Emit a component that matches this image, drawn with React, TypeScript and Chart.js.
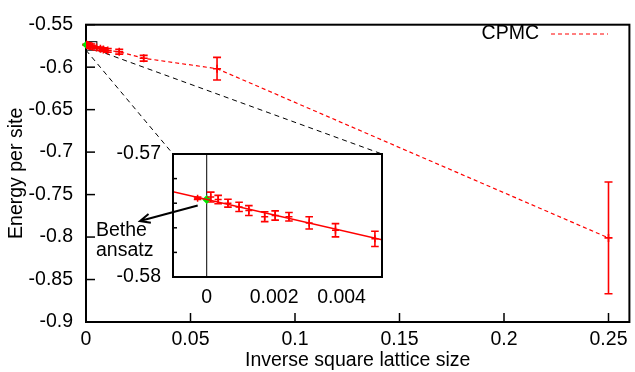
import React, { useEffect, useRef } from "react";
import { Chart, registerables } from "chart.js";

Chart.register(...registerables);

// ---------- data ----------
// inset region CPMC results (large lattices)
const insetX = [0.00012, 0.00034, 0.00063, 0.00096, 0.00125, 0.00172, 0.00203, 0.00244, 0.00304, 0.00382, 0.00499];
const insetY = [-0.5735, -0.5737, -0.574, -0.5743, -0.5746, -0.5751, -0.575, -0.5751, -0.5756, -0.5762, -0.5769];
const insetErr = [0.0004, 0.00034, 0.00032, 0.00038, 0.0004, 0.0004, 0.00038, 0.00035, 0.0005, 0.00054, 0.00062];
// smaller lattices
const smallX = [0.0069, 0.0083, 0.0104, 0.0159, 0.0276, 0.0627, 0.25];
const smallY = [-0.5782, -0.5791, -0.5803, -0.5818, -0.5895, -0.6018, -0.801];
const smallErr = [0.002, 0.002, 0.0022, 0.0028, 0.0034, 0.0133, 0.0658];
// Bethe ansatz value
const betheX = [0];
const betheY = [-0.5737];
// extrapolated point
const extrapX = [-0.00027];
const extrapY = [-0.5736];
const extrapErr = [0.0001];
// linear fit (end points)
const fitX = [-0.001, 0.0052];
const fitY = [-0.57307, -0.57698];
// zoom window
const zoomX = [-0.001, 0.0052];
const zoomY = [-0.58, -0.57];
// ticks
const mainXTicks = [0, 0.05, 0.1, 0.15, 0.2, 0.25];
const mainYTicks = [-0.9, -0.85, -0.8, -0.75, -0.7, -0.65, -0.6, -0.55];
const insetXTicks = [0, 0.002, 0.004];
const insetYTicks = [-0.58, -0.578, -0.576, -0.574, -0.572, -0.57];
const insetYLabels = [-0.58, -0.57];

const cpmcX = [...insetX, ...smallX];
const cpmcY = [...insetY, ...smallY];
const cpmcErr = [...insetErr, ...smallErr];

const FONT = "'Liberation Sans', Arial, Helvetica, sans-serif";
const FS = 19.5;
const RED = "#ff0000";
const GREEN = "#00e600";

const pts = (xs: number[], ys: number[]) => xs.map((x, i) => ({ x, y: ys[i] }));

const errorBars = {
  id: "errorBars",
  beforeDatasetsDraw(chart: any) {
    const ctx = chart.ctx;
    const ys = chart.scales.y;
    chart.data.datasets.forEach((ds: any, i: number) => {
      if (!ds.errors) return;
      const meta = chart.getDatasetMeta(i);
      ctx.save();
      ctx.strokeStyle = ds.errColor;
      ctx.lineWidth = ds.errWidth;
      ctx.setLineDash([]);
      meta.data.forEach((el: any, j: number) => {
        const v = ds.data[j].y;
        const e = ds.errors[j];
        const x = el.x;
        const y1 = ys.getPixelForValue(v + e);
        const y2 = ys.getPixelForValue(v - e);
        const c = ds.capHalf;
        ctx.beginPath();
        ctx.moveTo(x, y1);
        ctx.lineTo(x, y2);
        ctx.moveTo(x - c, y1);
        ctx.lineTo(x + c, y1);
        ctx.moveTo(x - c, y2);
        ctx.lineTo(x + c, y2);
        ctx.stroke();
      });
      ctx.restore();
    });
  },
};

function fixedTicks(values: number[]) {
  return (s: any) => {
    s.ticks = values.map((v) => ({ value: v }));
  };
}

export default function App() {
  const mainRef = useRef<HTMLCanvasElement>(null);
  const insetRef = useRef<HTMLCanvasElement>(null);

  useEffect(() => {
    Chart.defaults.font.family = FONT;
    Chart.defaults.font.size = FS;
    Chart.defaults.color = "#000";

    // ---------------- inset ----------------
    const insetDecor = {
      id: "insetDecor",
      beforeDraw(chart: any) {
        const { ctx, chartArea: a } = chart;
        ctx.save();
        ctx.fillStyle = "#fff";
        ctx.fillRect(a.left, a.top, a.right - a.left, a.bottom - a.top);
        const x0 = chart.scales.x.getPixelForValue(0);
        ctx.strokeStyle = "#000";
        ctx.lineWidth = 1;
        ctx.beginPath();
        ctx.moveTo(x0, a.top);
        ctx.lineTo(x0, a.bottom);
        ctx.stroke();
        ctx.restore();
      },
      afterDraw(chart: any) {
        const { ctx, chartArea: a } = chart;
        const ys = chart.scales.y;
        ctx.save();
        ctx.strokeStyle = "#000";
        ctx.lineWidth = 2;
        ctx.strokeRect(a.left, a.top, a.right - a.left, a.bottom - a.top);
        ctx.lineWidth = 1.5;
        insetYTicks.forEach((v) => {
          const y = ys.getPixelForValue(v);
          ctx.beginPath();
          ctx.moveTo(a.left, y);
          ctx.lineTo(a.left + 4, y);
          ctx.stroke();
        });
        // arrow from Bethe point towards label
        const gx = chart.scales.x.getPixelForValue(betheX[0]);
        const gy = ys.getPixelForValue(betheY[0]);
        const tx = gx - 9, ty = gy + 6;
        const hx = 140, hy = 221;
        ctx.lineWidth = 2;
        ctx.beginPath();
        ctx.moveTo(tx, ty);
        ctx.lineTo(hx, hy);
        const ang = Math.atan2(hy - ty, hx - tx);
        const L = 11, w = 0.42;
        ctx.moveTo(hx - L * Math.cos(ang - w), hy - L * Math.sin(ang - w));
        ctx.lineTo(hx, hy);
        ctx.lineTo(hx - L * Math.cos(ang + w), hy - L * Math.sin(ang + w));
        ctx.stroke();
        ctx.fillStyle = "#000";
        ctx.font = `${FS}px ${FONT}`;
        ctx.textAlign = "left";
        ctx.textBaseline = "middle";
        ctx.fillText("Bethe", 96, 231);
        ctx.fillText("ansatz", 96, 251);
        ctx.restore();
      },
    };

    const inset = new Chart(insetRef.current!, {
      type: "line",
      data: {
        datasets: [
          {
            label: "fit",
            data: pts(fitX, fitY),
            borderColor: RED,
            borderWidth: 1.5,
            pointRadius: 0,
            fill: false,
          },
          {
            label: "CPMC",
            data: pts(insetX, insetY),
            showLine: false,
            pointStyle: "cross",
            pointRadius: 3.5,
            pointBorderWidth: 1.5,
            borderColor: RED,
            backgroundColor: RED,
            errors: insetErr,
            errColor: RED,
            errWidth: 1.6,
            capHalf: 3.8,
          } as any,
          {
            label: "extrap",
            data: pts(extrapX, extrapY),
            showLine: false,
            pointStyle: "cross",
            pointRadius: 3.5,
            pointBorderWidth: 1.5,
            borderColor: RED,
            backgroundColor: RED,
            errors: extrapErr,
            errColor: RED,
            errWidth: 1.6,
            capHalf: 3.8,
          } as any,
          {
            label: "Bethe",
            data: pts(betheX, betheY),
            showLine: false,
            pointStyle: "rectRot",
            pointRadius: 4.5,
            pointBorderWidth: 0,
            borderColor: GREEN,
            backgroundColor: GREEN,
          },
        ],
      },
      options: {
        animation: false,
        responsive: false,
        events: [],
        layout: { padding: { left: 0, top: 154, right: 253, bottom: 0 } },
        plugins: { legend: { display: false }, tooltip: { enabled: false } },
        scales: {
          x: {
            type: "linear",
            min: -0.001,
            max: 0.0052,
            afterBuildTicks: fixedTicks(insetXTicks),
            afterFit: (s: any) => {
              s.height = 95;
            },
            grid: { display: false, drawTicks: false },
            border: { display: false },
            ticks: { padding: 9, maxRotation: 0, autoSkip: false, callback: (v: any) => String(v) },
          },
          y: {
            type: "linear",
            min: -0.58,
            max: -0.57,
            afterBuildTicks: fixedTicks(insetYTicks),
            afterFit: (s: any) => {
              s.width = 173;
            },
            grid: { display: false, drawTicks: false },
            border: { display: false },
            ticks: {
              padding: 12,
              autoSkip: false,
              callback: (v: any) => (insetYLabels.includes(v) ? String(v) : ""),
            },
          },
        },
      },
      plugins: [insetDecor, errorBars],
    });

    // ---------------- main ----------------
    const mainDecor = {
      id: "mainDecor",
      beforeDraw(chart: any) {
        const { ctx } = chart;
        ctx.save();
        ctx.fillStyle = "#fff";
        ctx.fillRect(0, 0, chart.width, chart.height);
        ctx.restore();
      },
      beforeDatasetsDraw(chart: any) {
        const { ctx, chartArea: a } = chart;
        const xs = chart.scales.x;
        const ys = chart.scales.y;
        ctx.save();
        ctx.strokeStyle = "#000";
        ctx.lineWidth = 2;
        ctx.setLineDash([]);
        ctx.strokeRect(a.left, a.top, a.right - a.left, a.bottom - a.top);
        ctx.lineWidth = 1.5;
        mainYTicks.forEach((v) => {
          const y = ys.getPixelForValue(v);
          ctx.beginPath();
          ctx.moveTo(a.left, y);
          ctx.lineTo(a.left + 9, y);
          ctx.stroke();
        });
        mainXTicks.forEach((v) => {
          const x = xs.getPixelForValue(v);
          ctx.beginPath();
          ctx.moveTo(x, a.bottom);
          ctx.lineTo(x, a.bottom - 9);
          ctx.stroke();
        });
        // zoom box
        const bx1 = Math.max(a.left, xs.getPixelForValue(zoomX[0]));
        const bx2 = xs.getPixelForValue(zoomX[1]);
        const by1 = ys.getPixelForValue(zoomY[1]);
        const by2 = ys.getPixelForValue(zoomY[0]);
        ctx.lineWidth = 1;
        ctx.strokeRect(bx1, by1, bx2 - bx1, by2 - by1);
        // connectors to inset
        const ia = inset.chartArea;
        ctx.setLineDash([5, 4]);
        ctx.beginPath();
        ctx.moveTo(bx1, by2);
        ctx.lineTo(ia.left, ia.top);
        ctx.moveTo(bx2, by2);
        ctx.lineTo(ia.right, ia.top);
        ctx.stroke();
        ctx.restore();
      },
      afterDraw(chart: any) {
        const { ctx } = chart;
        ctx.save();
        // legend
        ctx.setLineDash([]);
        ctx.fillStyle = "#000";
        ctx.font = `${FS}px ${FONT}`;
        ctx.textAlign = "right";
        ctx.textBaseline = "middle";
        ctx.fillText("CPMC", 539, 34);
        ctx.strokeStyle = RED;
        ctx.lineWidth = 1.2;
        ctx.setLineDash([4, 3]);
        ctx.beginPath();
        ctx.moveTo(551, 34);
        ctx.lineTo(608, 34);
        ctx.stroke();
        ctx.restore();
      },
    };

    const main = new Chart(mainRef.current!, {
      type: "line",
      data: {
        datasets: [
          {
            label: "CPMC",
            data: pts(cpmcX, cpmcY),
            borderColor: RED,
            backgroundColor: RED,
            borderWidth: 1.2,
            borderDash: [4, 3],
            pointStyle: "cross",
            pointRadius: 4,
            pointBorderWidth: 1.6,
            fill: false,
            errors: cpmcErr,
            errColor: RED,
            errWidth: 1.6,
            capHalf: 4,
          } as any,
          {
            label: "Bethe",
            data: pts(betheX, betheY),
            showLine: false,
            pointStyle: "rectRot",
            pointRadius: 3.8,
            pointBorderWidth: 0,
            borderColor: GREEN,
            backgroundColor: GREEN,
            clip: false,
          } as any,
        ],
      },
      options: {
        animation: false,
        responsive: false,
        events: [],
        layout: { padding: { left: 0, top: 16, right: 3, bottom: 0 } },
        plugins: { legend: { display: false }, tooltip: { enabled: false } },
        scales: {
          x: {
            type: "linear",
            min: 0,
            max: 0.26,
            afterBuildTicks: fixedTicks(mainXTicks),
            afterFit: (s: any) => {
              s.height = 50;
            },
            grid: { display: false, drawTicks: false },
            border: { display: false },
            ticks: { padding: 6, maxRotation: 0, autoSkip: false, callback: (v: any) => String(v) },
            title: {
              display: true,
              text: "Inverse square lattice size",
              padding: { top: 0, bottom: 0 },
              font: { size: FS, family: FONT },
            },
          },
          y: {
            type: "linear",
            min: -0.9,
            max: -0.55,
            afterBuildTicks: fixedTicks(mainYTicks),
            afterFit: (s: any) => {
              s.width = 86;
            },
            grid: { display: false, drawTicks: false },
            border: { display: false },
            ticks: { padding: 13, autoSkip: false, callback: (v: any) => String(v) },
            title: {
              display: true,
              text: "Energy per site",
              padding: { top: 5, bottom: 0 },
              font: { size: FS, family: FONT },
            },
          },
        },
      },
      plugins: [mainDecor, errorBars],
    });

    return () => {
      main.destroy();
      inset.destroy();
    };
  }, []);

  return (
    <div style={{ position: "fixed", left: 0, top: 0, width: 635, height: 372 }}>
      <canvas
        ref={mainRef}
        width={635}
        height={372}
        style={{ position: "absolute", left: 0, top: 0, width: 635, height: 372 }}
      />
      <canvas
        ref={insetRef}
        width={635}
        height={372}
        style={{ position: "absolute", left: 0, top: 0, width: 635, height: 372 }}
      />
    </div>
  );
}
